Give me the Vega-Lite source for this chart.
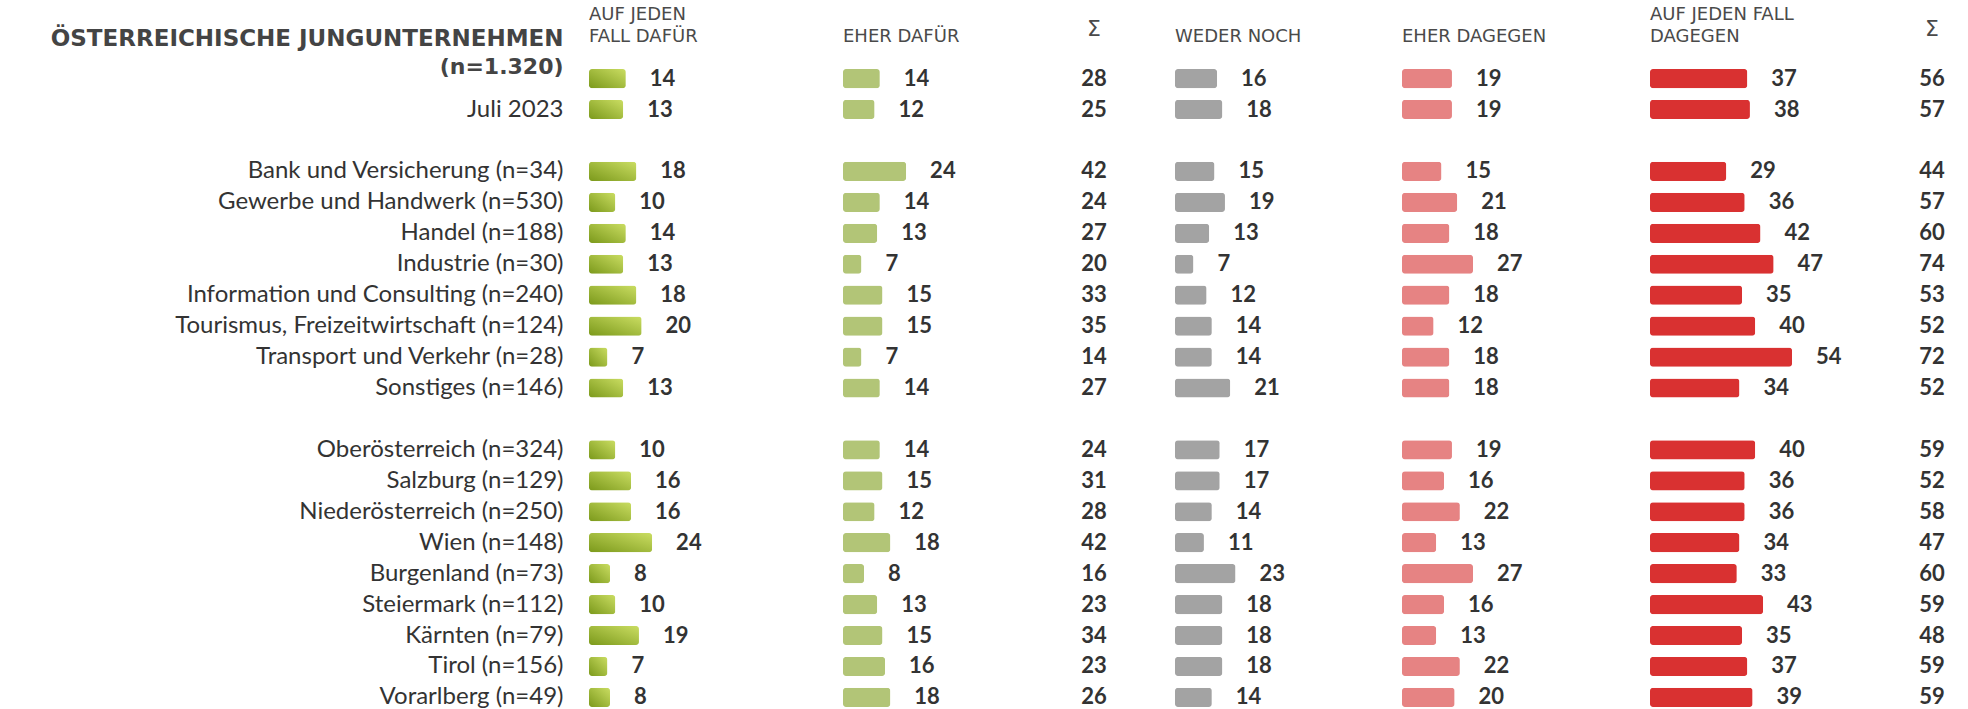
{
  "$schema": "https://vega.github.io/schema/vega-lite/v6.json",
  "background": "#ffffff",
  "padding": {"left": 50, "top": 5, "right": 0, "bottom": 0},
  "bounds": "flush",
  "spacing": 0,
  "data": {"values": [
    {"label": "(n=1.320)", "f1": 14, "f2": 14, "s1": 28, "f3": 16, "f4": 19, "f5": 37, "s2": 56},
    {"label": "Juli 2023", "f1": 13, "f2": 12, "s1": 25, "f3": 18, "f4": 19, "f5": 38, "s2": 57},
    {"label": "Bank und Versicherung (n=34)", "f1": 18, "f2": 24, "s1": 42, "f3": 15, "f4": 15, "f5": 29, "s2": 44},
    {"label": "Gewerbe und Handwerk (n=530)", "f1": 10, "f2": 14, "s1": 24, "f3": 19, "f4": 21, "f5": 36, "s2": 57},
    {"label": "Handel (n=188)", "f1": 14, "f2": 13, "s1": 27, "f3": 13, "f4": 18, "f5": 42, "s2": 60},
    {"label": "Industrie (n=30)", "f1": 13, "f2": 7, "s1": 20, "f3": 7, "f4": 27, "f5": 47, "s2": 74},
    {"label": "Information und Consulting (n=240)", "f1": 18, "f2": 15, "s1": 33, "f3": 12, "f4": 18, "f5": 35, "s2": 53},
    {"label": "Tourismus, Freizeitwirtschaft (n=124)", "f1": 20, "f2": 15, "s1": 35, "f3": 14, "f4": 12, "f5": 40, "s2": 52},
    {"label": "Transport und Verkehr (n=28)", "f1": 7, "f2": 7, "s1": 14, "f3": 14, "f4": 18, "f5": 54, "s2": 72},
    {"label": "Sonstiges (n=146)", "f1": 13, "f2": 14, "s1": 27, "f3": 21, "f4": 18, "f5": 34, "s2": 52},
    {"label": "Oberösterreich (n=324)", "f1": 10, "f2": 14, "s1": 24, "f3": 17, "f4": 19, "f5": 40, "s2": 59},
    {"label": "Salzburg (n=129)", "f1": 16, "f2": 15, "s1": 31, "f3": 17, "f4": 16, "f5": 36, "s2": 52},
    {"label": "Niederösterreich (n=250)", "f1": 16, "f2": 12, "s1": 28, "f3": 14, "f4": 22, "f5": 36, "s2": 58},
    {"label": "Wien (n=148)", "f1": 24, "f2": 18, "s1": 42, "f3": 11, "f4": 13, "f5": 34, "s2": 47},
    {"label": "Burgenland (n=73)", "f1": 8, "f2": 8, "s1": 16, "f3": 23, "f4": 27, "f5": 33, "s2": 60},
    {"label": "Steiermark (n=112)", "f1": 10, "f2": 13, "s1": 23, "f3": 18, "f4": 16, "f5": 43, "s2": 59},
    {"label": "Kärnten (n=79)", "f1": 19, "f2": 15, "s1": 34, "f3": 18, "f4": 13, "f5": 35, "s2": 48},
    {"label": "Tirol (n=156)", "f1": 7, "f2": 16, "s1": 23, "f3": 18, "f4": 22, "f5": 37, "s2": 59},
    {"label": "Vorarlberg (n=49)", "f1": 8, "f2": 18, "s1": 26, "f3": 14, "f4": 20, "f5": 39, "s2": 59}
  ]},
  "config": {
    "view": {"stroke": null},
    "title": {"anchor": "start", "frame": "group", "font": "DejaVu Sans", "fontSize": 18, "fontWeight": "normal", "color": "#4a4a4a", "offset": 22, "lineHeight": 22},
    "text": {"font": "Lato", "fontSize": 22, "fontWeight": "bold", "color": "#333333", "baseline": "middle"},
    "bar": {"cornerRadius": 3}
  },
  "hconcat": [
    {
      "width": 254, "height": 638,
      "title": {"text": ["AUF JEDEN", "FALL DAFÜR"], "offset": -19},
      "encoding": {
        "y": {"field": "label", "type": "nominal",
          "scale": {"type": "band", "domain": ["(n=1.320)", "Juli 2023", " ", "Bank und Versicherung (n=34)", "Gewerbe und Handwerk (n=530)", "Handel (n=188)", "Industrie (n=30)", "Information und Consulting (n=240)", "Tourismus, Freizeitwirtschaft (n=124)", "Transport und Verkehr (n=28)", "Sonstiges (n=146)", "  ", "Oberösterreich (n=324)", "Salzburg (n=129)", "Niederösterreich (n=250)", "Wien (n=148)", "Burgenland (n=73)", "Steiermark (n=112)", "Kärnten (n=79)", "Tirol (n=156)", "Vorarlberg (n=49)"], "paddingInner": 0.38, "paddingOuter": 0},
          "axis": {
            "title": "ÖSTERREICHISCHE JUNGUNTERNEHMEN",
            "titleAngle": 0, "titleAlign": "right", "titleBaseline": "middle",
            "titleX": -26, "titleY": -31,
            "titleFont": "DejaVu Sans", "titleFontSize": 23, "titleFontWeight": "bold", "titleColor": "#444444",
            "labelFont": {"condition": {"test": "datum.value === '(n=1.320)'", "value": "DejaVu Sans"}, "value": "Lato"},
            "labelFontSize": {"condition": {"test": "datum.value === '(n=1.320)'", "value": 22}, "value": 24},
            "labelFontWeight": {"condition": {"test": "datum.value === '(n=1.320)'", "value": "bold"}, "value": "normal"},
            "labelColor": {"condition": {"test": "datum.value === '(n=1.320)'", "value": "#444444"}, "value": "#333333"},
            "labelOffset": {"condition": {"test": "datum.value === '(n=1.320)'", "value": -12}, "value": 0},
            "labelPadding": 26, "labelLimit": 600,
            "ticks": false, "domain": false, "grid": false
          }
        },
        "x": {"field": "f1", "type": "quantitative", "scale": {"domain": [0, 100], "range": [0, 263]}, "axis": null}
      },
      "layer": [
        {"mark": {"type": "bar", "color": {"gradient": "linear", "x1": 0, "y1": 1, "x2": 1, "y2": 0, "stops": [{"offset": 0, "color": "#7b991b"}, {"offset": 1, "color": "#cadd62"}]}}},
        {"mark": {"type": "text", "align": "left", "dx": 24}, "encoding": {"text": {"field": "f1", "type": "quantitative"}}}
      ]
    },
    {
      "width": 170, "height": 638,
      "title": {"text": "EHER DAFÜR"},
      "encoding": {
        "y": {"field": "label", "type": "nominal", "scale": {"type": "band", "domain": ["(n=1.320)", "Juli 2023", " ", "Bank und Versicherung (n=34)", "Gewerbe und Handwerk (n=530)", "Handel (n=188)", "Industrie (n=30)", "Information und Consulting (n=240)", "Tourismus, Freizeitwirtschaft (n=124)", "Transport und Verkehr (n=28)", "Sonstiges (n=146)", "  ", "Oberösterreich (n=324)", "Salzburg (n=129)", "Niederösterreich (n=250)", "Wien (n=148)", "Burgenland (n=73)", "Steiermark (n=112)", "Kärnten (n=79)", "Tirol (n=156)", "Vorarlberg (n=49)"], "paddingInner": 0.38, "paddingOuter": 0}, "axis": null},
        "x": {"field": "f2", "type": "quantitative", "scale": {"domain": [0, 100], "range": [0, 263]}, "axis": null}
      },
      "layer": [
        {"mark": {"type": "bar", "color": "#b2c577"}},
        {"mark": {"type": "text", "align": "left", "dx": 24}, "encoding": {"text": {"field": "f2", "type": "quantitative"}}}
      ]
    },
    {
      "width": 162, "height": 638,
      "title": {"text": "Σ", "anchor": "middle", "offset": 27, "fontSize": 22},
      "encoding": {
        "y": {"field": "label", "type": "nominal", "scale": {"type": "band", "domain": ["(n=1.320)", "Juli 2023", " ", "Bank und Versicherung (n=34)", "Gewerbe und Handwerk (n=530)", "Handel (n=188)", "Industrie (n=30)", "Information und Consulting (n=240)", "Tourismus, Freizeitwirtschaft (n=124)", "Transport und Verkehr (n=28)", "Sonstiges (n=146)", "  ", "Oberösterreich (n=324)", "Salzburg (n=129)", "Niederösterreich (n=250)", "Wien (n=148)", "Burgenland (n=73)", "Steiermark (n=112)", "Kärnten (n=79)", "Tirol (n=156)", "Vorarlberg (n=49)"], "paddingInner": 0.38, "paddingOuter": 0}, "axis": null},
        "text": {"field": "s1", "type": "quantitative"}
      },
      "layer": [
        {"mark": {"type": "text", "align": "center"}}
      ]
    },
    {
      "width": 227, "height": 638,
      "title": {"text": "WEDER NOCH"},
      "encoding": {
        "y": {"field": "label", "type": "nominal", "scale": {"type": "band", "domain": ["(n=1.320)", "Juli 2023", " ", "Bank und Versicherung (n=34)", "Gewerbe und Handwerk (n=530)", "Handel (n=188)", "Industrie (n=30)", "Information und Consulting (n=240)", "Tourismus, Freizeitwirtschaft (n=124)", "Transport und Verkehr (n=28)", "Sonstiges (n=146)", "  ", "Oberösterreich (n=324)", "Salzburg (n=129)", "Niederösterreich (n=250)", "Wien (n=148)", "Burgenland (n=73)", "Steiermark (n=112)", "Kärnten (n=79)", "Tirol (n=156)", "Vorarlberg (n=49)"], "paddingInner": 0.38, "paddingOuter": 0}, "axis": null},
        "x": {"field": "f3", "type": "quantitative", "scale": {"domain": [0, 100], "range": [0, 263]}, "axis": null}
      },
      "layer": [
        {"mark": {"type": "bar", "color": "#a3a3a3"}},
        {"mark": {"type": "text", "align": "left", "dx": 24}, "encoding": {"text": {"field": "f3", "type": "quantitative"}}}
      ]
    },
    {
      "width": 248, "height": 638,
      "title": {"text": "EHER DAGEGEN"},
      "encoding": {
        "y": {"field": "label", "type": "nominal", "scale": {"type": "band", "domain": ["(n=1.320)", "Juli 2023", " ", "Bank und Versicherung (n=34)", "Gewerbe und Handwerk (n=530)", "Handel (n=188)", "Industrie (n=30)", "Information und Consulting (n=240)", "Tourismus, Freizeitwirtschaft (n=124)", "Transport und Verkehr (n=28)", "Sonstiges (n=146)", "  ", "Oberösterreich (n=324)", "Salzburg (n=129)", "Niederösterreich (n=250)", "Wien (n=148)", "Burgenland (n=73)", "Steiermark (n=112)", "Kärnten (n=79)", "Tirol (n=156)", "Vorarlberg (n=49)"], "paddingInner": 0.38, "paddingOuter": 0}, "axis": null},
        "x": {"field": "f4", "type": "quantitative", "scale": {"domain": [0, 100], "range": [0, 263]}, "axis": null}
      },
      "layer": [
        {"mark": {"type": "bar", "color": "#e68383"}},
        {"mark": {"type": "text", "align": "left", "dx": 24}, "encoding": {"text": {"field": "f4", "type": "quantitative"}}}
      ]
    },
    {
      "width": 250, "height": 638,
      "title": {"text": ["AUF JEDEN FALL", "DAGEGEN"]},
      "encoding": {
        "y": {"field": "label", "type": "nominal", "scale": {"type": "band", "domain": ["(n=1.320)", "Juli 2023", " ", "Bank und Versicherung (n=34)", "Gewerbe und Handwerk (n=530)", "Handel (n=188)", "Industrie (n=30)", "Information und Consulting (n=240)", "Tourismus, Freizeitwirtschaft (n=124)", "Transport und Verkehr (n=28)", "Sonstiges (n=146)", "  ", "Oberösterreich (n=324)", "Salzburg (n=129)", "Niederösterreich (n=250)", "Wien (n=148)", "Burgenland (n=73)", "Steiermark (n=112)", "Kärnten (n=79)", "Tirol (n=156)", "Vorarlberg (n=49)"], "paddingInner": 0.38, "paddingOuter": 0}, "axis": null},
        "x": {"field": "f5", "type": "quantitative", "scale": {"domain": [0, 100], "range": [0, 263]}, "axis": null}
      },
      "layer": [
        {"mark": {"type": "bar", "color": "#d93131"}},
        {"mark": {"type": "text", "align": "left", "dx": 24}, "encoding": {"text": {"field": "f5", "type": "quantitative"}}}
      ]
    },
    {
      "width": 64, "height": 638,
      "title": {"text": "Σ", "anchor": "middle", "offset": 27, "fontSize": 22},
      "encoding": {
        "y": {"field": "label", "type": "nominal", "scale": {"type": "band", "domain": ["(n=1.320)", "Juli 2023", " ", "Bank und Versicherung (n=34)", "Gewerbe und Handwerk (n=530)", "Handel (n=188)", "Industrie (n=30)", "Information und Consulting (n=240)", "Tourismus, Freizeitwirtschaft (n=124)", "Transport und Verkehr (n=28)", "Sonstiges (n=146)", "  ", "Oberösterreich (n=324)", "Salzburg (n=129)", "Niederösterreich (n=250)", "Wien (n=148)", "Burgenland (n=73)", "Steiermark (n=112)", "Kärnten (n=79)", "Tirol (n=156)", "Vorarlberg (n=49)"], "paddingInner": 0.38, "paddingOuter": 0}, "axis": null},
        "text": {"field": "s2", "type": "quantitative"}
      },
      "layer": [
        {"mark": {"type": "text", "align": "center"}}
      ]
    }
  ]
}
